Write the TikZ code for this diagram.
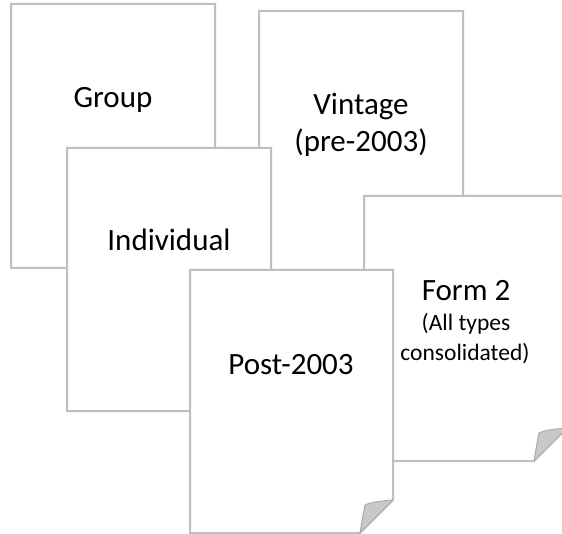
\documentclass[tikz,border=0pt]{standalone}
\usepackage{fontspec}
\setmainfont{Carlito}
\definecolor{edgegray}{HTML}{BFBFBF}
\definecolor{flapgray}{HTML}{C8C8C8}
\tikzset{
  sheetline/.style={draw=edgegray, fill=white, line width=2pt, line join=miter},
  flapshape/.style={draw=edgegray!90!black, fill=flapgray, line width=1pt, line join=round},
  bigtext/.style={font=\fontsize{31}{37}\selectfont, inner sep=0pt, anchor=base},
  smalltext/.style={font=\fontsize{23.5}{28}\selectfont, inner sep=0pt, anchor=base}
}
% #1 left, #2 top, #3 right, #4 bottom (y grows downward)
\newcommand{\papersheet}[4]{%
  \path[sheetline] (#1,#2) -- (#3,#2) -- (#3,#4-33) -- (#3-33,#4) -- (#1,#4) -- cycle;
  \path[flapshape] (#3,#4-33) .. controls (#3-12,#4-32) and (#3-22,#4-31) .. (#3-28,#4-28)
     .. controls (#3-30,#4-18) .. (#3-33,#4) -- cycle;
}
\begin{document}
\begin{tikzpicture}[x=1pt, y=-1pt]
  \useasboundingbox (0,0) rectangle (562,534);
  \clip (0,0) rectangle (562,534);
  % Group
  \papersheet{11}{4}{215}{268}
  \node[bigtext] (group) at (113,108) {Group};
  % Vintage
  \papersheet{259}{11}{463}{275}
  \node[bigtext] (vintageA) at (361,115) {Vintage};
  \node[bigtext] (vintageB) at (361,152) {(pre-2003)};
  % Individual
  \papersheet{67}{148}{271}{411}
  \node[bigtext] (individual) at (169,251) {Individual};
  % Form 2
  \papersheet{364}{196}{567}{461}
  \node[bigtext] (formA) at (466,301) {Form 2};
  \node[smalltext] (formB) at (466,331) {(All types};
  \node[smalltext] (formC) at (465,360) {consolidated)};
  % Post-2003
  \papersheet{190}{270}{393}{533}
  \node[bigtext] (post) at (291,374) {Post-2003};
\end{tikzpicture}
\end{document}
